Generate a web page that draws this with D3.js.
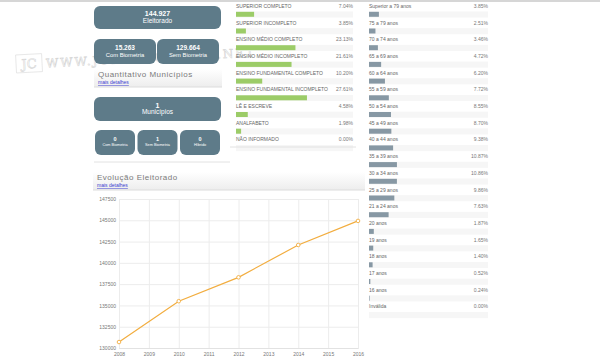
<!DOCTYPE html>
<html>
<head>
<meta charset="utf-8">
<script src="https://cdn.jsdelivr.net/npm/d3@7"></script>
<style>
  body { margin: 0; background: #fff; }
  svg { display: block; font-family: "Liberation Sans", Arial, sans-serif; }
</style>
</head>
<body>
<svg id="svg"></svg>
<script>
// summary boxes
const totalBox = { value: '144.927', label: 'Eleitorado' };
const bioBoxes = [
  { value: '15.263', label: 'Com Biometria' },
  { value: '129.664', label: 'Sem Biometria' }
];
const muniBox = { value: '1', label: 'Municípios' };
const muniBioBoxes = [
  { value: '0', label: 'Com Biometria' },
  { value: '1', label: 'Sem Biometria' },
  { value: '0', label: 'Híbrido' }
];

// education breakdown
const eduLabels = ['SUPERIOR COMPLETO', 'SUPERIOR INCOMPLETO', 'ENSINO MÉDIO COMPLETO', 'ENSINO MÉDIO INCOMPLETO',
  'ENSINO FUNDAMENTAL COMPLETO', 'ENSINO FUNDAMENTAL INCOMPLETO', 'LÊ E ESCREVE', 'ANALFABETO', 'NÃO INFORMADO'];
const eduValues = [7.04, 3.85, 23.13, 21.61, 10.20, 27.61, 4.58, 1.98, 0.00];

// age breakdown
const ageLabels = ['Superior a 79 anos', '75 a 79 anos', '70 a 74 anos', '65 a 69 anos', '60 a 64 anos',
  '55 a 59 anos', '50 a 54 anos', '45 a 49 anos', '40 a 44 anos', '35 a 39 anos', '30 a 34 anos',
  '25 a 29 anos', '21 a 24 anos', '20 anos', '19 anos', '18 anos', '17 anos', '16 anos', 'Inválida'];
const ageValues = [3.85, 2.51, 3.46, 4.72, 6.20, 7.72, 8.55, 8.70, 9.38, 10.87, 10.86, 9.86, 7.63,
  1.87, 1.65, 1.40, 0.52, 0.24, 0.00];

// electorate evolution
const evoYears = [2008, 2010, 2012, 2014, 2016];
const evoValues = [130700, 135500, 138300, 142100, 144927];
const yTicks = [130000, 132500, 135000, 137500, 140000, 142500, 145000, 147500];
const xTicks = [2008, 2009, 2010, 2011, 2012, 2013, 2014, 2015, 2016];

const width = 600;
const height = 364;
const boxColor = '#5e7b89';

const svg = d3.select('#svg')
  .attr('width', width)
  .attr('height', height);

const defs = svg.append('defs');
const grad = defs.append('linearGradient')
  .attr('id', 'hdr')
  .attr('x1', 0).attr('y1', 0).attr('x2', 0).attr('y2', 1);
grad.append('stop').attr('offset', '0%').attr('stop-color', '#ffffff');
grad.append('stop').attr('offset', '100%').attr('stop-color', '#ededed');

// thin grey strip at the top of the screenshot
svg.append('rect')
  .attr('x', 0).attr('y', 0)
  .attr('width', width).attr('height', 2)
  .attr('fill', '#d6d6d6');

// --- watermark (behind the boxes) ---------------------------------------
const wm = svg.append('g')
  .attr('transform', 'rotate(-3, 130, 60)')
  .attr('opacity', 0.45);
wm.append('rect')
  .attr('x', 16).attr('y', 49)
  .attr('width', 26).attr('height', 18)
  .attr('fill', 'none')
  .attr('stroke', '#b9b9b9')
  .attr('stroke-width', 0.7);
wm.append('text')
  .attr('x', 29).attr('y', 63)
  .attr('text-anchor', 'middle')
  .attr('font-family', 'DejaVu Serif, serif')
  .attr('font-size', 13)
  .attr('fill', 'none')
  .attr('stroke', '#a8a8a8')
  .attr('stroke-width', 0.6)
  .text('JC');
wm.append('text')
  .attr('x', 46).attr('y', 63)
  .attr('font-family', 'DejaVu Serif, serif')
  .attr('font-size', 12)
  .attr('textLength', 208)
  .attr('fill', 'none')
  .attr('stroke', '#a8a8a8')
  .attr('stroke-width', 0.6)
  .text('WWW.JORNALCIDADE.NET');

// --- left column -------------------------------------------------------
function drawBox(x, y, w, h, d, bigSize, smallSize, gap) {
  svg.append('rect')
    .attr('x', x).attr('y', y)
    .attr('width', w).attr('height', h)
    .attr('rx', 6)
    .attr('fill', boxColor);
  svg.append('text')
    .attr('x', x + w / 2).attr('y', y + h / 2 - gap)
    .attr('text-anchor', 'middle')
    .attr('font-size', bigSize)
    .attr('font-weight', 'bold')
    .attr('fill', '#fff')
    .text(d.value);
  svg.append('text')
    .attr('x', x + w / 2).attr('y', y + h / 2 + gap + smallSize * 0.6)
    .attr('text-anchor', 'middle')
    .attr('font-size', smallSize)
    .attr('fill', '#fff')
    .text(d.label);
}

drawBox(94, 6, 127, 23, totalBox, 7, 6.5, 1.2);
bioBoxes.forEach((d, i) => drawBox(94 + i * 63, 39, 62, 25, d, 6.5, 5.8, 1.8));

function header(x, y, w, title) {
  svg.append('rect')
    .attr('x', x).attr('y', y)
    .attr('width', w).attr('height', 18)
    .attr('fill', 'url(#hdr)');
  svg.append('line')
    .attr('x1', x).attr('x2', x + w)
    .attr('y1', y + 18).attr('y2', y + 18)
    .attr('stroke', '#dcdcdc');
  svg.append('text')
    .attr('x', x + 4).attr('y', y + 8)
    .attr('font-size', 8)
    .attr('letter-spacing', 0.5)
    .attr('fill', '#7a7a7a')
    .text(title);
  svg.append('text')
    .attr('x', x + 4).attr('y', y + 15)
    .attr('font-size', 5)
    .attr('fill', '#3a3ad0')
    .attr('text-decoration', 'underline')
    .text('mais detalhes');
}

header(94, 69, 128, 'Quantitativo Municípios');
drawBox(94, 97, 127, 24, muniBox, 7, 6.5, 1.5);
muniBioBoxes.forEach((d, i) => drawBox(95 + i * 42.5, 130, 40, 25, d, 5.5, 3.8, 1.6));

svg.append('line')
  .attr('x1', 94).attr('x2', 230)
  .attr('y1', 162).attr('y2', 162)
  .attr('stroke', '#e2e2e2');

header(93, 172, 272, 'Evolução Eleitorado');

// --- line chart ----------------------------------------------------------
const xScale = d3.scaleLinear().domain([2008, 2016]).range([119, 358]);
const yScale = d3.scaleLinear().domain([130000, 147500]).range([348, 199]);

const chart = svg.append('g');

chart.append('g')
  .attr('transform', 'translate(119,0)')
  .call(d3.axisLeft(yScale).tickValues(yTicks).tickSize(-(358 - 119)).tickFormat(d3.format('d')))
  .call(g => g.select('.domain').remove())
  .call(g => g.selectAll('.tick line').attr('stroke', '#ececec'))
  .call(g => g.selectAll('.tick text').attr('x', -3).attr('font-size', 5).attr('fill', '#777'));

chart.append('g')
  .attr('transform', 'translate(0,348)')
  .call(d3.axisBottom(xScale).tickValues(xTicks).tickSize(-(348 - 199)).tickFormat(d3.format('d')))
  .call(g => g.select('.domain').attr('stroke', '#e2e2e2'))
  .call(g => g.selectAll('.tick line').attr('stroke', '#ececec'))
  .call(g => g.selectAll('.tick text').attr('y', 4).attr('font-size', 5).attr('fill', '#777'));

const line = d3.line()
  .x((d, i) => xScale(evoYears[i]))
  .y(d => yScale(d));

chart.append('path')
  .datum(evoValues)
  .attr('d', line)
  .attr('fill', 'none')
  .attr('stroke', '#f2ad3f')
  .attr('stroke-width', 1.2);

chart.selectAll('circle')
  .data(evoValues)
  .enter()
  .append('circle')
  .attr('cx', (d, i) => xScale(evoYears[i]))
  .attr('cy', d => yScale(d))
  .attr('r', 1.8)
  .attr('fill', '#fff')
  .attr('stroke', '#f2ad3f')
  .attr('stroke-width', 0.9);

// --- bar lists -----------------------------------------------------------
const pctScale = d3.scaleLinear().domain([0, 100]).range([0, 257]);
const rowStep = 16.7;

function barList(x0, x1, labels, values, color) {
  const g = svg.append('g');
  labels.forEach((label, i) => {
    const y = 6 + i * rowStep;
    g.append('rect')
      .attr('x', x0).attr('y', y + 5.5)
      .attr('width', x1 - x0).attr('height', 6)
      .attr('fill', '#f6f6f6');
    g.append('text')
      .attr('x', x0).attr('y', y + 1.8)
      .attr('font-size', 5)
      .attr('fill', '#666')
      .text(label);
    g.append('text')
      .attr('x', x1).attr('y', y + 1.8)
      .attr('text-anchor', 'end')
      .attr('font-size', 5)
      .attr('fill', '#777')
      .text(values[i].toFixed(2) + '%');
    g.append('rect')
      .attr('x', x0).attr('y', y + 5.8)
      .attr('width', pctScale(values[i]))
      .attr('height', 5)
      .attr('fill', color);
  });
  return g;
}

barList(236, 353, eduLabels, eduValues, '#9ccc68');
barList(369, 488, ageLabels, ageValues, '#8798a4');

svg.append('line')
  .attr('x1', 230).attr('x2', 356)
  .attr('y1', 147).attr('y2', 147)
  .attr('stroke', '#e2e2e2');
</script>
</body>
</html>
